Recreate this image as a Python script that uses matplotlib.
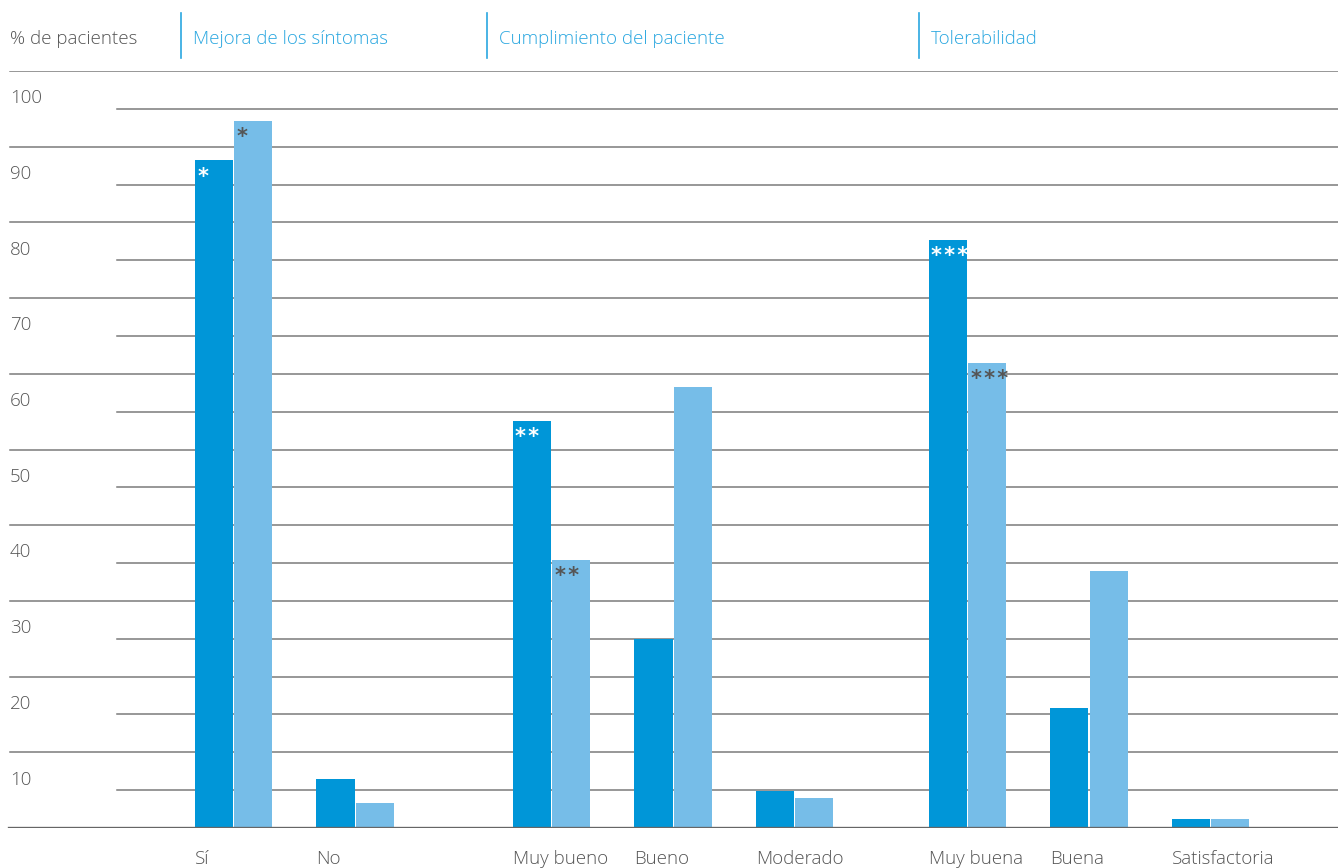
import matplotlib
matplotlib.use("Agg")
import matplotlib.pyplot as plt

# ---- data ----
groups = ["Mejora de los síntomas", "Cumplimiento del paciente", "Tolerabilidad"]
categories = ["Sí", "No", "Muy bueno", "Bueno", "Moderado", "Muy buena", "Buena", "Satisfactoria"]
category_group = [0, 0, 1, 1, 1, 2, 2, 2]
series_a = [88.2, 6.5, 53.8, 25.0, 4.9, 77.7, 15.9, 1.2]
series_b = [93.4, 3.3, 35.4, 58.3, 4.0, 61.4, 34.0, 1.2]
marks_a = ["*", "", "**", "", "", "***", "", ""]
marks_b = ["*", "", "**", "", "", "***", "", ""]
y_ticks = [10, 20, 30, 40, 50, 60, 70, 80, 90, 100]
y_label = "% de pacientes"

# ---- style ----
DARK = "#0096d8"
LIGHT = "#76bde8"
HEAD = "#2aa7e0"
TXT = "#555555"
GRID = "#7a7a7a"
FONT = "Open Sans"
FS = 13.5

W, H = 1338, 868
fig = plt.figure(figsize=(W / 100, H / 100), dpi=100)
y0_px, y100_px = 828, 71
ax = fig.add_axes([0, 1 - y0_px / H, 1, (y0_px - y100_px) / H])
ax.set_xlim(0, W)
ax.set_ylim(0, 100)
ax.axis("off")

# gridlines
for v in range(5, 101, 5):
    if v % 10 == 0:
        ax.axhline(v, xmin=10 / W, xmax=1, color=GRID, lw=1.1, zorder=1)
    else:
        ax.axhline(v, xmin=117 / W, xmax=1, color=GRID, lw=1.1, zorder=1)
ax.axhline(0, xmin=9 / W, xmax=1, color="#666666", lw=2.4, zorder=4)

# bar positions
origin, step, bw = 233.5, 121.5, 38.3
group_gap = [0, 75, 51.5]
xs = []
off = 0
prev = None
for i, g in enumerate(category_group):
    if prev is not None and g != prev:
        off += group_gap[g]
    xs.append(origin + step * i + off)
    prev = g

def spaced(s):
    return "\u200a".join(s)

for i, x in enumerate(xs):
    ax.bar(x - bw / 2 - 0.5, series_a[i], width=bw, color=DARK, zorder=3, linewidth=0)
    ax.bar(x + bw / 2 + 0.5, series_b[i], width=bw, color=LIGHT, zorder=3, linewidth=0)
    if marks_a[i]:
        ax.annotate(spaced(marks_a[i]), (x - bw - 0.5, series_a[i]), xytext=(2.0, -4.5),
                    textcoords="offset points", ha="left", va="top",
                    color="white", fontsize=15, fontweight="bold", family="DejaVu Sans", zorder=5)
    if marks_b[i]:
        ax.annotate(spaced(marks_b[i]), (x + 0.5, series_b[i]), xytext=(2.0, -4.5),
                    textcoords="offset points", ha="left", va="top",
                    color="#555555", fontsize=15, fontweight="bold", family="DejaVu Sans", zorder=5)
    ax.text(x - bw - 0.5, -2.9, categories[i], ha="left", va="top",
            color=TXT, fontsize=FS, family=FONT, fontweight="light")

# y tick labels
for v in y_ticks:
    ax.text(10, v - 3.6, str(v), ha="left", va="center", color=TXT, fontsize=FS,
            family=FONT, fontweight="light")

# header
ty = 1 - 38.5 / H
fig.text(10 / W, ty, y_label, ha="left", va="center", color=TXT, fontsize=FS,
         family=FONT, fontweight="light")
sep_x = [181, 487, 919]
for gi, g in enumerate(groups):
    sx = sep_x[gi]
    fig.add_artist(plt.Line2D([sx / W, sx / W], [1 - 13 / H, 1 - 58 / H], color=HEAD, lw=1.2))
    fig.text((sx + 12) / W, ty, g, ha="left", va="center", color=HEAD, fontsize=FS,
             family=FONT, fontweight="light")

fig.savefig("out.png", dpi=100)
